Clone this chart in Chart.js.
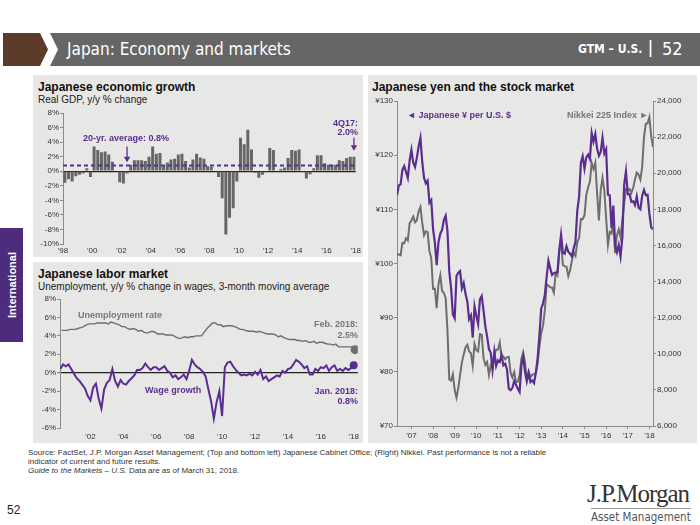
<!DOCTYPE html>
<html><head><meta charset="utf-8">
<script src="https://cdn.jsdelivr.net/npm/chart.js@4.4.1/dist/chart.umd.min.js"></script>
<style>
body{margin:0;background:#fff;}
#page{position:relative;width:700px;height:525px;overflow:hidden;font-family:"Liberation Sans",Arial,sans-serif;color:#222;}
.abs{position:absolute;white-space:nowrap;}
.panel{position:absolute;background:#e7e7e5;}
.ttl{position:absolute;font-weight:bold;font-size:12px;color:#111;white-space:nowrap;}
.sub{position:absolute;font-size:10px;color:#222;white-space:nowrap;}
canvas{position:absolute;}
.ann{position:absolute;font-weight:bold;font-size:9px;white-space:nowrap;}
.foot{position:absolute;left:28px;font-size:8px;color:#333;white-space:nowrap;}
</style></head><body><div id="page">
<svg class="abs" style="left:0;top:0" width="700" height="70">
 <polygon points="3,33 40,33 48,49.5 40,66 3,66" fill="#5d3b2b"/>
 <polygon points="50,33 700,33 700,66 50,66 58,49.5" fill="#666666"/>
</svg>
<div class="abs" style="left:67px;top:39px;font-family:'Liberation Sans Narrow','DejaVu Sans Condensed',sans-serif;font-size:17px;color:#fff;">Japan: Economy and markets</div>
<div class="abs" style="left:578px;top:42px;font-family:'Liberation Sans Narrow','DejaVu Sans Condensed',sans-serif;font-weight:bold;font-size:12px;color:#fff;">GTM – U.S.</div>
<div class="abs" style="left:648px;top:36px;font-size:19px;color:#fff;">|</div>
<div class="abs" style="left:662px;top:38px;font-family:'Liberation Sans Narrow','DejaVu Sans Condensed',sans-serif;font-size:18px;color:#fff;">52</div>

<div class="abs" style="left:0;top:228px;width:23px;height:114px;background:#4d2c7d;"></div>
<div class="abs" style="left:11.5px;top:285px;transform:translate(-50%,-50%) rotate(-90deg);color:#fff;font-weight:bold;font-size:11px;">International</div>

<div class="panel" style="left:33px;top:75px;width:330px;height:182px;"></div>
<div class="panel" style="left:33px;top:262px;width:330px;height:181px;"></div>
<div class="panel" style="left:368px;top:75px;width:329px;height:368px;"></div>

<div class="ttl" style="left:38px;top:80px;">Japanese economic growth</div>
<div class="sub" style="left:38px;top:94px;">Real GDP, y/y % change</div>
<div class="ttl" style="left:38px;top:267px;">Japanese labor market</div>
<div class="sub" style="left:38px;top:281px;">Unemployment, y/y % change in wages, 3-month moving average</div>
<div class="ttl" style="left:372px;top:80px;">Japanese yen and the stock market</div>

<canvas id="gdp" width="330" height="152" style="left:33px;top:105px;width:330px;height:152px;"></canvas>
<canvas id="labor" width="330" height="151" style="left:33px;top:292px;width:330px;height:151px;"></canvas>
<canvas id="mkt" width="329" height="349" style="left:368px;top:94px;width:329px;height:349px;"></canvas>

<div class="ann" style="left:83px;top:133px;color:#5c2d91;">20-yr. average: 0.8%</div>
<div class="ann" style="right:342px;top:119px;color:#5c2d91;text-align:right;line-height:9px;">4Q17:<br>2.0%</div>

<div class="ann" style="left:78px;top:310px;color:#777;">Unemployment rate</div>
<div class="ann" style="left:145px;top:385px;color:#5c2d91;">Wage growth</div>
<div class="ann" style="right:342px;top:319px;color:#777;text-align:right;line-height:11px;">Feb. 2018:<br>2.5%</div>
<div class="ann" style="right:342px;top:386px;color:#5c2d91;text-align:right;line-height:10px;">Jan. 2018:<br>0.8%</div>

<div class="ann" style="left:407px;top:110px;color:#5c2d91;">◄ Japanese ¥ per U.S. $</div>
<div class="ann" style="left:567px;top:110px;color:#777;">Nikkei 225 Index ►</div>

<div class="foot" style="top:448px;">Source: FactSet, J.P. Morgan Asset Management; (Top and bottom left) Japanese Cabinet Office; (Right) Nikkei. Past performance is not a reliable</div>
<div class="foot" style="top:457px;">indicator of current and future results.</div>
<div class="foot" style="top:466px;"><i>Guide to the Markets – U.S.</i> Data are as of March 31, 2018.</div>
<div class="abs" style="left:7px;top:503px;font-size:12px;color:#222;">52</div>
<div class="abs" style="left:587px;top:480px;font-family:'Liberation Serif',serif;font-size:25px;color:#333;letter-spacing:-1px;">J.P.Morgan</div>
<div class="abs" style="left:591px;top:508px;width:100px;border-top:1px solid #999;"></div>
<div class="abs" style="left:591px;top:510px;font-family:'Liberation Sans Narrow','DejaVu Sans Condensed',sans-serif;font-size:11.5px;color:#555;">Asset Management</div>
</div>
<script>
// ---------- DATA ----------
const gdpStartYear = 1998;               // quarterly, 1Q98 .. 4Q17
const gdpValues = [
  -1.6,-1.1,-1.4,-0.7,
  -0.5,-0.3,0.4,-0.8,
  3.4,2.9,2.6,2.7,
  2.3,1.3,0.1,-1.5,
  -1.7,-0.3,0.9,1.5,
  1.5,1.5,1.4,2.0,
  3.4,2.4,2.5,0.8,
  1.2,1.6,1.7,2.3,
  2.4,1.4,0.5,1.6,
  2.4,1.9,1.7,0.7,
  0.6,0.0,-0.8,-3.7,
  -8.7,-6.4,-5.1,-1.4,
  4.6,3.7,5.7,3.0,
  -0.2,-0.9,-0.5,-0.1,
  3.2,2.9,0.0,0.3,
  0.5,1.8,2.9,2.8,
  3.0,-0.1,-1.0,-0.4,
  0.4,2.2,2.2,1.1,
  0.9,0.9,0.9,1.5,
  1.4,1.8,2.0,2.0
];
const gdpAverage = 0.8;
const gdpTickYears = [1998,2000,2002,2004,2006,2008,2010,2012,2014,2016,2018];

// labor market: every 2 months
const unempStart = {year:2000, month:4};   // Apr 2000 .. Feb 2018
const unempValues = [
  4.6,4.6,4.6,4.7,4.7,
  4.7,4.8,4.9,5.0,5.2,5.3,
  5.3,5.3,5.4,5.4,5.4,5.4,
  5.3,5.5,5.4,5.3,5.2,5.0,
  5.0,4.8,4.7,4.8,4.7,4.5,
  4.6,4.4,4.3,4.4,4.5,4.4,
  4.2,4.2,4.2,4.1,4.1,4.1,
  4.0,3.8,3.7,3.8,3.9,3.8,
  3.9,3.9,4.0,4.0,4.0,4.4,
  4.8,5.1,5.4,5.4,5.2,5.2,
  5.0,5.1,5.1,5.1,5.0,4.9,
  4.7,4.7,4.6,4.5,4.5,4.5,
  4.4,4.5,4.4,4.3,4.2,4.2,
  4.2,4.1,3.9,4.0,3.8,3.7,
  3.6,3.6,3.6,3.5,3.5,3.4,
  3.5,3.3,3.3,3.4,3.2,3.3,
  3.3,3.2,3.1,3.1,3.0,3.1,
  2.8,2.8,2.8,2.8,2.8,2.8,
  2.5
];
const wageStart = {year:2000, month:3};    // Mar 2000 .. Jan 2018
const wageValues = [
  0.4,0.9,0.7,0.9,0.4,
  -0.1,-0.6,-0.9,-1.3,-1.7,-2.5,
  -3.0,-1.6,-1.2,-2.8,-3.9,-1.8,
  -1.1,-0.8,0.4,-0.9,-1.5,-0.8,
  -1.2,-1.3,-0.9,-0.6,-0.3,0.3,
  0.3,0.5,1.0,0.6,0.3,0.6,
  0.6,0.3,0.5,0.7,0.2,0.0,
  -0.5,-0.3,-0.7,-0.5,-0.2,-0.7,
  0.2,1.4,0.9,0.6,0.4,0.1,
  -0.4,-1.8,-3.1,-5.0,-3.2,-2.0,
  -4.7,0.6,1.1,1.2,0.7,0.3,
  0.0,-0.3,-0.2,-0.3,-0.1,-0.3,
  0.1,-0.2,0.3,-0.7,-0.4,-0.9,
  -0.7,-0.5,-0.3,-0.4,0.2,0.0,
  0.4,0.5,0.9,1.4,1.2,0.9,
  0.5,0.7,-0.2,-0.2,0.4,0.2,
  0.6,0.5,0.8,0.2,0.6,0.8,
  0.2,0.4,0.2,0.5,0.3,0.5,
  0.8
];
const laborTickYears = [2002,2004,2006,2008,2010,2012,2014,2016,2018];

// markets: monthly, May 2006 .. Mar 2018
const marketStart = {year:2006, month:5};
const yenValues = [
  112.6,114.4,114.6,117.3,118.0,116.9,115.8,119.0,
  121.0,118.6,117.8,119.5,121.6,123.2,118.7,115.8,114.8,115.3,111.2,111.7,
  106.4,103.9,99.7,103.9,105.5,106.2,108.0,108.8,106.0,98.5,95.5,90.6,
  89.9,97.7,98.3,98.6,95.4,96.4,94.4,93.0,89.7,90.4,86.3,92.1,
  90.3,88.8,93.4,94.0,91.3,88.4,86.5,84.2,83.5,80.4,83.7,81.1,
  82.1,81.8,83.1,81.2,81.5,80.5,76.9,76.6,77.0,78.3,77.6,76.9,
  76.3,81.2,82.8,80.0,78.3,79.8,78.1,78.4,77.9,79.8,82.5,86.7,
  91.7,92.6,94.2,97.5,100.5,99.1,97.9,98.2,98.3,98.4,102.4,105.3,
  102.0,101.8,103.2,102.2,101.8,101.3,102.8,104.0,109.7,112.3,118.6,119.8,
  117.5,119.6,120.1,119.3,124.1,122.5,123.9,121.2,119.9,120.6,123.2,120.3,
  121.1,112.7,112.6,106.5,110.7,103.3,102.1,103.4,101.3,104.8,114.5,117.0,
  112.8,112.8,111.4,111.5,110.8,112.4,110.3,110.0,112.5,113.6,112.6,112.7,
  109.2,106.7,106.3
];
const nikkeiValues = [
  15467,15505,15457,16141,16128,16399,16274,17226,
  17383,17604,17288,17400,17876,18138,17248,16569,16786,16737,15681,15308,
  13592,13603,12526,13850,14339,13481,13377,13073,11260,8577,8512,8860,
  7994,7568,8110,8828,9523,9958,10357,10493,10133,10035,9346,10546,
  10198,10126,11090,11057,9769,9383,9537,8824,9369,9202,9937,10229,
  10238,10624,9755,9850,9694,9816,9833,8955,8700,8988,8434,8455,
  8803,9723,10084,9521,8543,9007,8695,8840,8870,8928,9446,10395,
  11139,11559,12398,13861,13775,13677,13668,13389,14456,14328,15662,16291,
  14915,14841,14828,14304,14632,15162,15621,15425,16174,16414,17460,17451,
  17674,18798,19207,19520,20563,20236,20585,18890,17388,19083,19747,19034,
  17518,16027,16759,16666,17235,15576,16569,16887,16450,17425,18308,19114,
  19041,19119,18909,19197,19651,20033,19925,19646,20356,22012,22725,22765,
  23098,22068,21454
];
const marketTickYears = [2007,2008,2009,2010,2011,2012,2013,2014,2015,2016,2017,2018];

// ---------- helpers ----------
const PURPLE = '#5c2d91', GRAY_LINE = '#6e6e6e', AXIS = '#8a8a8a';
const monthX = (start, i, step) => start.year + (start.month - 1 + i * step) / 12;
const series = (vals, start, step) => vals.map((v, i) => ({x: monthX(start, i, step), y: v}));
const yrLabel = v => "'" + String(Math.round(v)).slice(2);
const tickFont = {family: "'Liberation Sans', Arial, sans-serif", size: 8};
const fixTicks = years => s => { s.ticks = years.map(v => ({value: v})); };
const lastOnly = (r) => (ctx) => ctx.dataIndex === ctx.dataset.data.length - 1 ? r : 0;

Chart.defaults.font.family = "'Liberation Sans', Arial, sans-serif";
Chart.defaults.animation = false;

const arrowPlugin = {
  id: 'arrows',
  afterDatasetsDraw(chart, args, opts) {
    if (!opts || !opts.items) return;
    const {ctx} = chart, x = chart.scales.x, y = chart.scales.y;
    for (const a of opts.items) {
      const px = x.getPixelForValue(a.x);
      const y1 = y.getPixelForValue(a.from), y2 = y.getPixelForValue(a.to);
      ctx.save();
      ctx.strokeStyle = a.color; ctx.fillStyle = a.color; ctx.lineWidth = 1.3;
      ctx.beginPath(); ctx.moveTo(px, y1); ctx.lineTo(px, y2 - 4); ctx.stroke();
      ctx.beginPath(); ctx.moveTo(px - 3.2, y2 - 5.5); ctx.lineTo(px + 3.2, y2 - 5.5); ctx.lineTo(px, y2); ctx.closePath(); ctx.fill();
      ctx.restore();
    }
  }
};

// ---------- GDP ----------
new Chart(document.getElementById('gdp'), {
  type: 'bar',
  data: {
    datasets: [
      {type: 'line', data: [{x: gdpStartYear, y: gdpAverage}, {x: gdpTickYears[gdpTickYears.length-1], y: gdpAverage}],
       borderColor: PURPLE, borderWidth: 2, borderDash: [4, 3], pointRadius: 0, order: 0},
      {data: gdpValues.map((v, i) => ({x: gdpStartYear + (i + 0.5) / 4, y: v})),
       backgroundColor: '#666666', barPercentage: 0.82, categoryPercentage: 1, order: 1}
    ]
  },
  options: {
    responsive: false, devicePixelRatio: 1,
    layout: {padding: {top: 8, right: 7, left: 0, bottom: 0}},
    plugins: {legend: {display: false}, tooltip: {enabled: false},
      arrows: {items: [{x: 2002.375, from: 3.4, to: 1.25, color: PURPLE}, {x: 2017.875, from: 4.6, to: 2.8, color: PURPLE}]}},
    scales: {
      x: {type: 'linear', min: 1998, max: 2018, offset: false,
          afterBuildTicks: fixTicks(gdpTickYears), afterFit: s => { s.height = 13; },
          grid: {display: false, drawTicks: false}, border: {display: false},
          ticks: {callback: yrLabel, font: tickFont, color: '#333', padding: 2, maxRotation: 0}},
      y: {min: -10, max: 8, afterFit: s => { s.width = 30; },
          ticks: {stepSize: 2, callback: v => v + '%', font: tickFont, color: '#333', padding: 1},
          grid: {color: c => c.tick && c.tick.value === 0 ? '#222' : 'rgba(0,0,0,0)', lineWidth: c => c.tick && c.tick.value === 0 ? 1.2 : 1,
                 tickColor: AXIS, tickLength: 3},
          border: {color: AXIS}}
    }
  },
  plugins: [arrowPlugin]
});

// ---------- Labor ----------
new Chart(document.getElementById('labor'), {
  type: 'line',
  data: {
    datasets: [
      {data: series(unempValues, unempStart, 2), borderColor: GRAY_LINE, backgroundColor: '#6e6e6e', borderWidth: 1.4,
       pointRadius: lastOnly(4.5), pointBorderWidth: 0, tension: 0},
      {data: series(wageValues, wageStart, 2), borderColor: PURPLE, backgroundColor: PURPLE, borderWidth: 2,
       pointRadius: lastOnly(4), pointBorderWidth: 0, tension: 0}
    ]
  },
  options: {
    responsive: false, devicePixelRatio: 1,
    layout: {padding: {top: 7, right: 5, left: 0, bottom: 0}},
    plugins: {legend: {display: false}, tooltip: {enabled: false}},
    scales: {
      x: {type: 'linear', min: 2000.15, max: 2018.25,
          afterBuildTicks: fixTicks(laborTickYears), afterFit: s => { s.height = 15; },
          grid: {display: false, drawTicks: false}, border: {display: false},
          ticks: {callback: yrLabel, font: tickFont, color: '#333', padding: 4, maxRotation: 0}},
      y: {min: -6, max: 8, afterFit: s => { s.width = 27; },
          ticks: {stepSize: 2, callback: v => v + '%', font: tickFont, color: '#333', padding: 1},
          grid: {color: c => c.tick && c.tick.value === 0 ? '#222' : 'rgba(0,0,0,0)', lineWidth: c => c.tick && c.tick.value === 0 ? 1.2 : 1,
                 tickColor: AXIS, tickLength: 3},
          border: {color: AXIS}}
    }
  }
});

// ---------- Markets ----------
new Chart(document.getElementById('mkt'), {
  type: 'line',
  data: {
    datasets: [
      {data: series(nikkeiValues, marketStart, 1), yAxisID: 'y2', borderColor: GRAY_LINE, borderWidth: 2, pointRadius: 0, tension: 0, order: 1},
      {data: series(yenValues, marketStart, 1), yAxisID: 'y', borderColor: PURPLE, borderWidth: 2.2, pointRadius: 0, tension: 0, order: 0}
    ]
  },
  options: {
    responsive: false, devicePixelRatio: 1,
    layout: {padding: {top: 7, right: 0, left: 0, bottom: 0}},
    plugins: {legend: {display: false}, tooltip: {enabled: false}},
    scales: {
      x: {type: 'linear', min: 2006 + 4/12, max: 2018 + 2/12,
          afterBuildTicks: fixTicks(marketTickYears), afterFit: s => { s.height = 17; },
          grid: {drawOnChartArea: false, color: AXIS, tickLength: 3}, border: {color: AXIS},
          ticks: {callback: yrLabel, font: tickFont, color: '#333', padding: 2, maxRotation: 0}},
      y: {position: 'left', min: 70, max: 130, afterFit: s => { s.width = 29; },
          ticks: {stepSize: 10, callback: v => '¥' + v, font: tickFont, color: '#333', padding: 1},
          grid: {drawOnChartArea: false, color: AXIS, tickLength: 3}, border: {color: AXIS}},
      y2: {position: 'right', min: 6000, max: 24000, afterFit: s => { s.width = 44; },
          ticks: {stepSize: 2000, callback: v => v.toLocaleString('en-US'), font: tickFont, color: '#333', padding: 1},
          grid: {drawOnChartArea: false, color: AXIS, tickLength: 3}, border: {color: AXIS}}
    }
  }
});
</script>
</body></html>
